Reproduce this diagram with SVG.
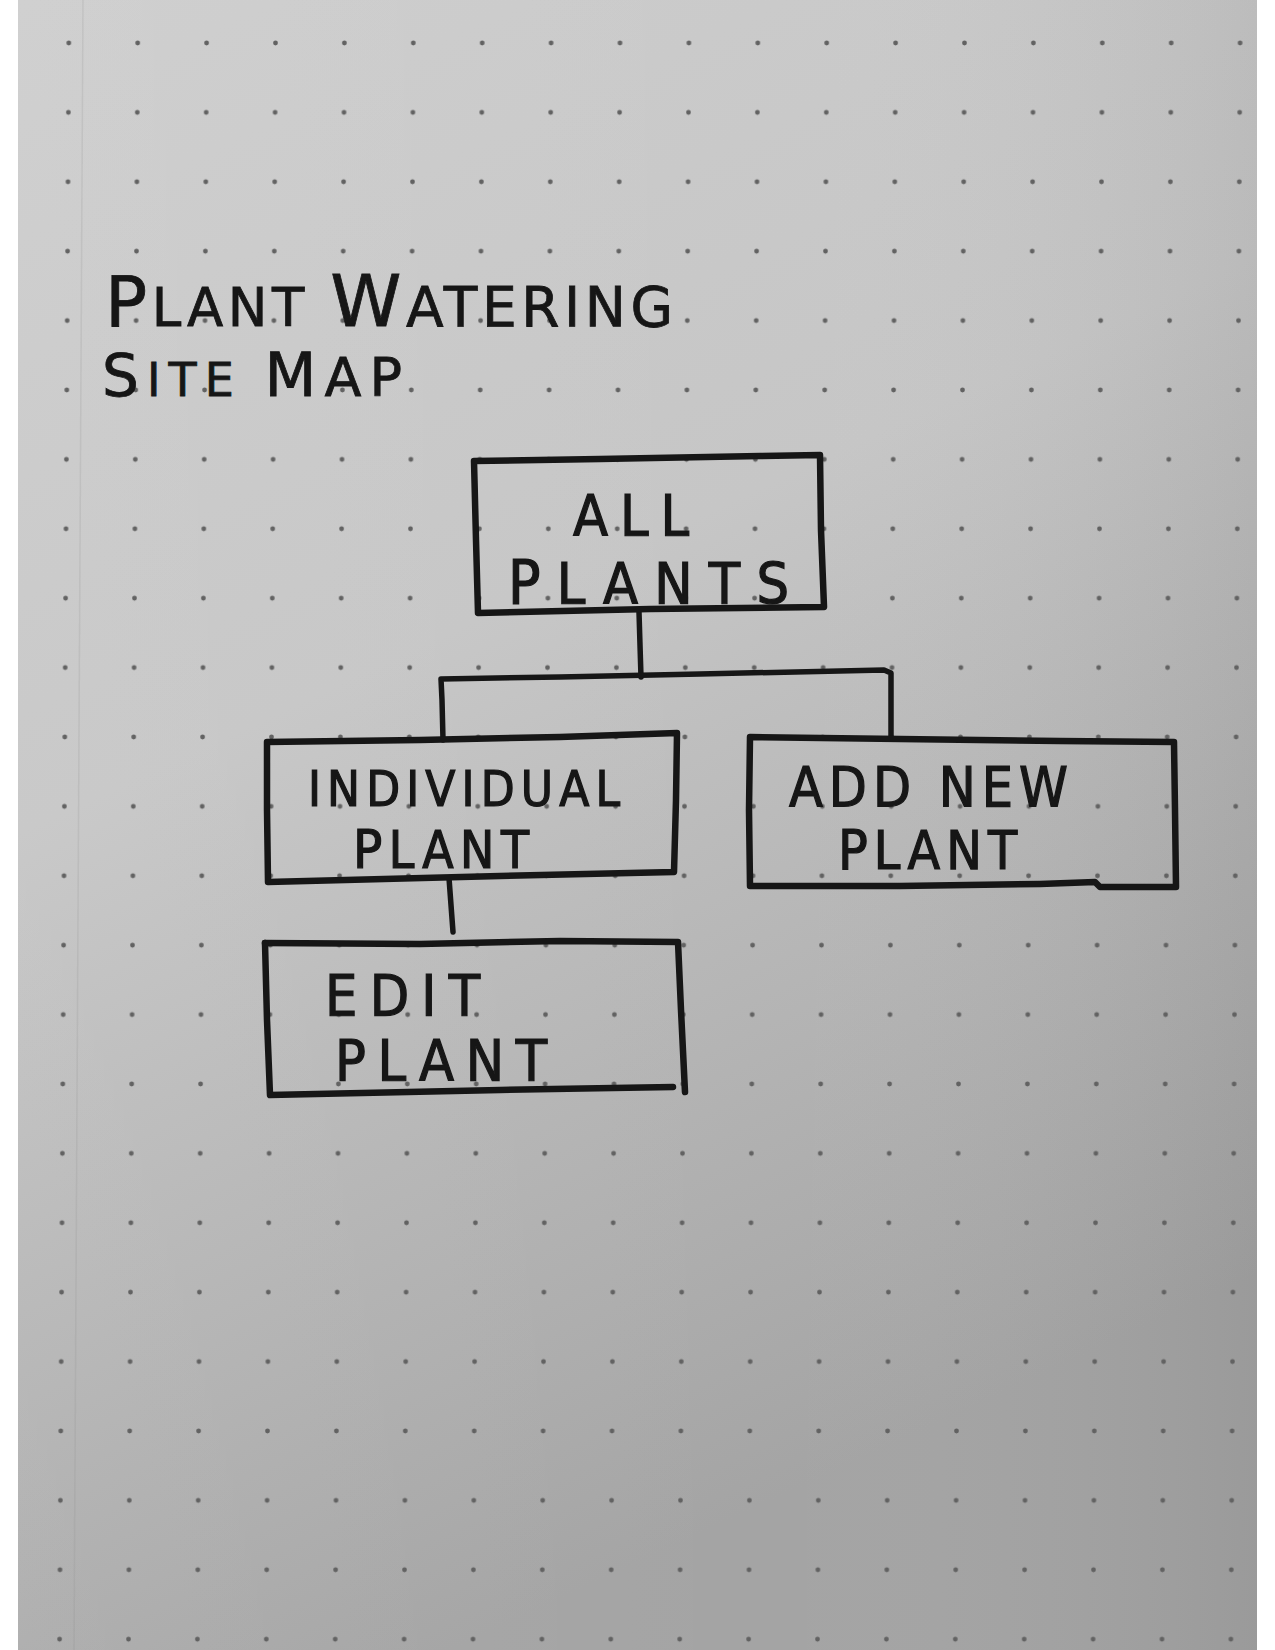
<svg xmlns="http://www.w3.org/2000/svg" width="1275" height="1650" viewBox="0 0 1275 1650">
  <defs>
    <linearGradient id="paper" x1="0" y1="0" x2="0.35" y2="1">
      <stop offset="0" stop-color="#cdcdcd"/>
      <stop offset="0.45" stop-color="#c6c6c6"/>
      <stop offset="1" stop-color="#a4a4a4"/>
    </linearGradient>
    <linearGradient id="shade" x1="0" y1="0" x2="1" y2="0">
      <stop offset="0" stop-color="#ffffff" stop-opacity="0.06"/>
      <stop offset="0.6" stop-color="#ffffff" stop-opacity="0"/>
      <stop offset="1" stop-color="#000000" stop-opacity="0.06"/>
    </linearGradient>
    <pattern id="dots" patternUnits="userSpaceOnUse" width="68.9" height="69.4"
             patternTransform="translate(34.55,8.3) skewX(-0.33)">
      <circle cx="34.45" cy="34.7" r="2.4" fill="#626262"/>
    </pattern>
    <style>
      .ink { fill: none; stroke: #161616; stroke-linecap: round; stroke-linejoin: round; }
      .box { stroke-width: 6.5; }
      .wire { stroke-width: 5.5; }
      .lbl { font-family: "DejaVu Sans Condensed", "DejaVu Sans", "Liberation Sans", sans-serif; fill: #161616;
             stroke: #161616; stroke-width: 1.2; }
      .head { font-family: "DejaVu Sans", "Liberation Sans", sans-serif; fill: #161616;
              stroke: #161616; stroke-width: 0.8; }
    </style>
  </defs>

  <!-- page background with the sheet edges -->
  <rect x="0" y="0" width="1275" height="1650" fill="#ffffff"/>
  <rect x="18" y="0" width="1239" height="1650" fill="url(#paper)"/>
  <rect x="18" y="0" width="1239" height="1650" fill="url(#shade)"/>
  <path d="M83,0 L74,1650" stroke="#8a8a8a" stroke-width="1.5" stroke-opacity="0.18" fill="none"/>
  <rect x="18" y="0" width="1239" height="1650" fill="url(#dots)"/>

  <!-- heading -->
  <g id="title">
    <text class="head" x="105" y="326" textLength="568" lengthAdjust="spacing"><tspan font-size="70">P</tspan><tspan font-size="53">LANT </tspan><tspan font-size="72">W</tspan><tspan font-size="55">ATERING</tspan></text>
    <text class="head" x="102" y="396" textLength="300" lengthAdjust="spacing"><tspan font-size="58">S</tspan><tspan font-size="46">ITE </tspan><tspan font-size="60">M</tspan><tspan font-size="54">AP</tspan></text>
  </g>

  <!-- connectors between pages -->
  <g id="connectors" class="ink wire">
    <path d="M639,612 L640,645 L641,677"/>
    <path d="M443,740 L442,700 L441,679 L560,677 L700,674 L884,670 L891,673 L891,705 L891,737"/>
    <path d="M449,878 L451,905 L453,932"/>
  </g>

  <g id="node-all-plants">
    <path class="ink box" d="M474,461 L600,459 L760,456 L820,455 L821,530 L824,607 L650,609 L478,613 L476,540 Z"/>
    <text class="lbl" x="573" y="536" font-size="57" textLength="116" lengthAdjust="spacing">ALL</text>
    <text class="lbl" x="508" y="604" textLength="281" lengthAdjust="spacing"><tspan font-size="60">P</tspan><tspan font-size="57">LANTS</tspan></text>
  </g>

  <g id="node-individual-plant">
    <path class="ink box" d="M267,742 L420,740 L560,737 L677,733 L676,800 L674,872 L500,876 L268,882 L267,810 Z"/>
    <text class="lbl" x="308" y="806" font-size="49" textLength="312" lengthAdjust="spacing">INDIVIDUAL</text>
    <text class="lbl" x="353" y="868" textLength="176" lengthAdjust="spacing"><tspan font-size="54">P</tspan><tspan font-size="51">LANT</tspan></text>
  </g>

  <g id="node-add-new-plant">
    <path class="ink box" d="M750,737 L900,739 L1060,741 L1174,742 L1175,810 L1176,887 L1100,887 L1095,882 L1040,884 L900,886 L750,886 L749,810 Z"/>
    <text class="lbl" x="789" y="806" font-size="55" textLength="279" lengthAdjust="spacing">ADD NEW</text>
    <text class="lbl" x="838" y="869" textLength="179" lengthAdjust="spacing"><tspan font-size="55">P</tspan><tspan font-size="53">LANT</tspan></text>
  </g>

  <g id="node-edit-plant">
    <path class="ink box" d="M265,943 L420,944 L560,941 L678,942 L681,1010 L685,1092"/>
    <path class="ink box" d="M673,1087 L500,1090 L270,1095 L267,1020 L265,943"/>
    <text class="lbl" x="325" y="1016" font-size="57" textLength="155" lengthAdjust="spacing">EDIT</text>
    <text class="lbl" x="335" y="1081" font-size="57" textLength="212" lengthAdjust="spacing">PLANT</text>
  </g>
</svg>
